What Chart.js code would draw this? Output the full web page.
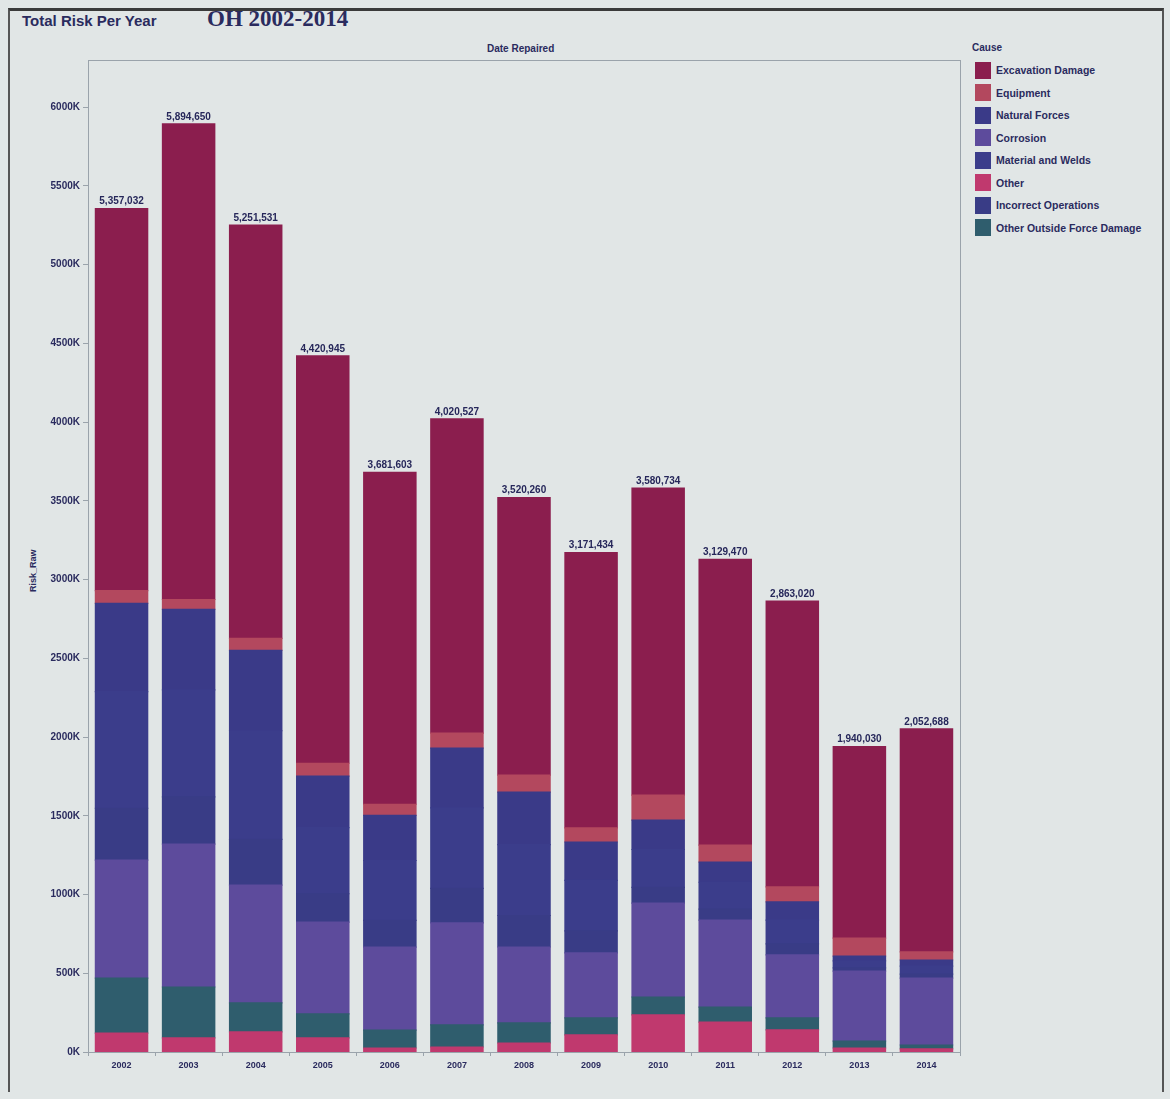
<!DOCTYPE html>
<html>
<head>
<meta charset="utf-8">
<script src="https://cdn.jsdelivr.net/npm/chart.js"></script>
<style>
  body { margin: 0; width: 1170px; height: 1099px; overflow: hidden; background: #e1e6e6;
         font-family: "Liberation Sans", Arial, sans-serif; color: #2a2b5e; }
  #frame { position: absolute; left: 8px; top: 8px; width: 1156px; height: 1084px;
           border-top: 3px solid #3a3a3a; border-left: 2px solid #555; border-right: 2px solid #555;
           box-sizing: border-box; }
  #t1 { position: absolute; left: 22px; top: 12px; font-weight: bold; font-size: 15px; }
  #t2 { position: absolute; left: 207px; top: 6px; font-family: "Liberation Serif", serif;
        font-weight: bold; font-size: 23px; }
  #head { position: absolute; left: 487px; top: 43px; font-weight: bold; font-size: 10px; }
  #ytitle { position: absolute; left: 28px; top: 592px; font-weight: bold; font-size: 9px;
            transform: rotate(-90deg); transform-origin: left top; }
  #legend { position: absolute; left: 972px; top: 42px; font-weight: bold; font-size: 10.5px; }
  #legend .cap { margin-bottom: 6px; font-size: 10px; }
  #legend .row { display: flex; align-items: center; height: 22.5px; }
  #legend .sw { width: 16px; height: 17px; margin: 0 5px 0 3px; }
  #chart { position: absolute; left: 0; top: 0; }
</style>
</head>
<body>
<div id="frame"></div>
<div id="t1">Total Risk Per Year</div>
<div id="t2">OH 2002-2014</div>
<div id="head">Date Repaired</div>
<div id="ytitle">Risk_Raw</div>
<div id="legend"><div class="cap">Cause</div></div>
<canvas id="chart" width="1170" height="1099"></canvas>
<script>
const years = ["2002", "2003", "2004", "2005", "2006", "2007", "2008", "2009", "2010", "2011", "2012", "2013", "2014"];

// stacked bottom to top
const other = [120450, 89320, 127310, 89140, 25260, 31870, 57120, 108340, 235180, 190260, 140110, 25340, 19280];
const outsideForce = [349210, 323480, 184150, 152370, 114080, 140290, 127430, 108260, 114150, 95180, 76340, 44270, 25160];
const corrosion = [748330, 907120, 748260, 583410, 526170, 647350, 482210, 412380, 596240, 552130, 400270, 444180, 425330];
const incorrectOps = [330140, 300260, 290180, 180220, 170310, 220140, 200160, 140230, 100270, 70140, 70120, 20110, 25090];
const materialWelds = [740260, 680130, 690240, 420130, 380220, 510260, 450180, 320150, 240130, 170250, 150180, 45210, 50140];
const naturalForces = [560180, 510240, 510170, 326150, 287140, 380110, 333240, 244170, 186210, 128160, 116230, 30140, 39170];
const equipment = [82110, 63210, 76140, 82230, 70180, 95240, 108110, 89270, 159120, 108230, 95140, 114230, 51220];
const excavation = [2426352, 3020890, 2625081, 2587295, 2108243, 1995267, 1761810, 1748634, 1949434, 1815120, 1814630, 1216550, 1417298];

const yTicks = [0, 500000, 1000000, 1500000, 2000000, 2500000, 3000000, 3500000, 4000000, 4500000, 5000000, 5500000, 6000000];

const series = [
  { label: "Other", data: other, color: "#c0396e" },
  { label: "Other Outside Force Damage", data: outsideForce, color: "#2f5d6d" },
  { label: "Corrosion", data: corrosion, color: "#5d4b9c" },
  { label: "Incorrect Operations", data: incorrectOps, color: "#393c86" },
  { label: "Material and Welds", data: materialWelds, color: "#3b3d8b" },
  { label: "Natural Forces", data: naturalForces, color: "#3a3a88" },
  { label: "Equipment", data: equipment, color: "#b3485e" },
  { label: "Excavation Damage", data: excavation, color: "#8b1e4e" },
];
const legendOrder = ["Excavation Damage", "Equipment", "Natural Forces", "Corrosion",
  "Material and Welds", "Other", "Incorrect Operations", "Other Outside Force Damage"];

const legend = document.getElementById("legend");
legendOrder.forEach((name) => {
  const s = series.find((x) => x.label === name);
  const row = document.createElement("div");
  row.className = "row";
  row.innerHTML = '<div class="sw" style="background:' + s.color + '"></div>' + name;
  legend.appendChild(row);
});

const totalsPlugin = {
  id: "totals",
  afterDatasetsDraw(chart) {
    const ctx = chart.ctx;
    const last = chart.getDatasetMeta(chart.data.datasets.length - 1);
    ctx.save();
    ctx.font = 'bold 10px "Liberation Sans", Arial';
    ctx.fillStyle = "#26275a";
    ctx.textAlign = "center";
    ctx.textBaseline = "bottom";
    last.data.forEach((bar, i) => {
      const total = chart.data.datasets.reduce((s, d) => s + d.data[i], 0);
      ctx.fillText(total.toLocaleString("en-US"), bar.x, bar.y - 2);
    });
    ctx.restore();
  },
};

const boxPlugin = {
  id: "box",
  afterDraw(chart) {
    const a = chart.chartArea;
    const ctx = chart.ctx;
    ctx.save();
    ctx.strokeStyle = "#9aa3ab";
    ctx.lineWidth = 1;
    ctx.strokeRect(a.left + 0.5, a.top + 0.5, a.right - a.left, a.bottom - a.top);
    ctx.restore();
  },
};

new Chart("chart", {
  type: "bar",
  data: {
    labels: years,
    datasets: series.map((s) => ({
      label: s.label,
      data: s.data,
      backgroundColor: s.color,
      borderWidth: 0,
      inflateAmount: 0.6,
      barPercentage: 0.78,
      categoryPercentage: 1.0,
    })),
  },
  options: {
    responsive: false,
    animation: false,
    layout: { padding: { top: 60, right: 210, bottom: 17, left: 0 } },
    plugins: { legend: { display: false }, tooltip: { enabled: false } },
    scales: {
      x: {
        stacked: true,
        grid: { display: true, drawOnChartArea: false, offset: true, tickLength: 4, color: "#9aa3ab" },
        border: { display: false },
        ticks: { color: "#2a2b5e", font: { size: 9, weight: "bold", family: "Liberation Sans" }, padding: 4 },
        afterFit: (scale) => { scale.height = 30; },
      },
      y: {
        stacked: true,
        min: 0,
        max: 6300000,
        grid: { display: true, drawOnChartArea: false, tickLength: 5, color: "#9aa3ab" },
        border: { display: false },
        afterBuildTicks: (scale) => { scale.ticks = yTicks.map((v) => ({ value: v })); },
        ticks: {
          color: "#2a2b5e",
          font: { size: 10, weight: "bold", family: "Liberation Sans" },
          padding: 3,
          callback: (v) => v / 1000 + "K",
        },
        afterFit: (scale) => { scale.width = 88; },
      },
    },
  },
  plugins: [totalsPlugin, boxPlugin],
});
</script>
</body>
</html>
